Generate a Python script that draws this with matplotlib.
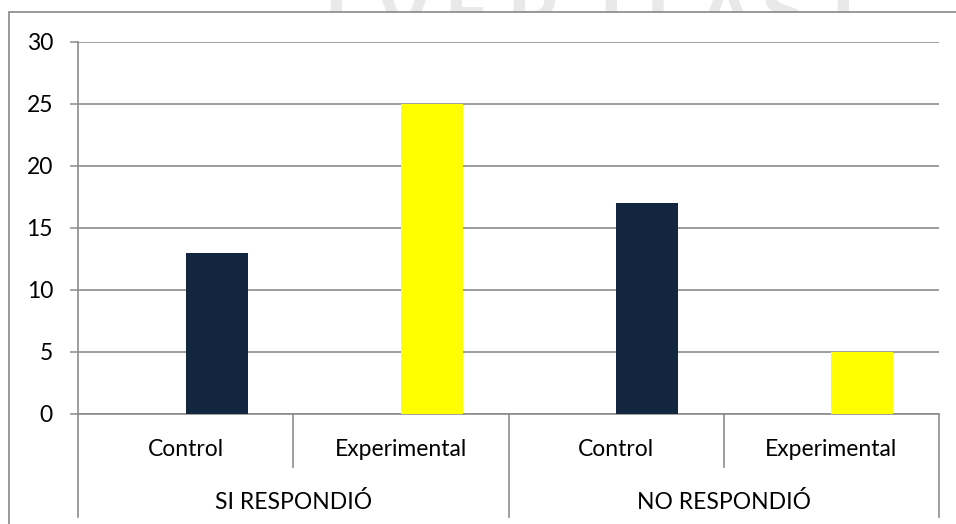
import matplotlib
matplotlib.use("Agg")
import matplotlib.pyplot as plt
from matplotlib.patches import Rectangle
from matplotlib.lines import Line2D

# ---- data ----
groups = ["SI RESPONDIÓ", "NO RESPONDIÓ"]
subcats = ["Control", "Experimental"]
values = [13, 25, 17, 5]            # SI-Control, SI-Exp, NO-Control, NO-Exp
subcat_colors = {"Control": "#13263F", "Experimental": "#FFFF00"}
yticks = [0, 5, 10, 15, 20, 25, 30]
watermark = "VERITAS"

plt.rcParams['font.family'] = ['Lato', 'DejaVu Sans']
W, H = 956, 524
fig = plt.figure(figsize=(W / 100, H / 100), dpi=100)
fig.patch.set_facecolor("white")

def fx(px):
    return px / W

def fy(py):
    return 1 - py / H

# faint watermark behind the chart frame (only its top shows, as in the reference)
wm_letters = ["I"] + list(watermark) + ["I"]
wm_x = [336, 403, 467, 533, 611, 658, 725, 783, 843]
for ch, xx in zip(wm_letters, wm_x):
    fig.text(fx(xx), fy(18), ch, fontsize=60, fontweight="bold", color="#e9e9e9",
             ha="center", va="center", zorder=-3)

# chart frame (white, covers watermark)
frame = Rectangle((fx(9), -0.2), 1.2, fy(12) + 0.2, transform=fig.transFigure,
                  facecolor="white", edgecolor="#878787", linewidth=1.2, zorder=-1)
fig.add_artist(frame)

ax = fig.add_axes([fx(78), fy(414), fx(939) - fx(78), fy(42) - fy(414)])
ax.set_facecolor("none")

n = len(values)
cats = [(g, s) for g in groups for s in subcats]
width = 0.288
xs = [i + width / 2 for i in range(n)]
cols = [subcat_colors[s] for g, s in cats]
ax.bar(xs, values, width=width, color=cols, zorder=3)

FS = 16.5
ax.set_xlim(-0.5, n - 0.5)
ax.set_ylim(0, 30)
ax.set_yticks(yticks)
ax.set_yticklabels([str(v) for v in yticks], fontsize=FS)
ax.yaxis.grid(True, color="#8c8c8c", linewidth=1.2, zorder=0)
ax.set_axisbelow(True)
ax.tick_params(axis="y", length=6, width=1.1, color="#8c8c8c", pad=12)
ax.set_xticks([])
for s in ["top", "right"]:
    ax.spines[s].set_visible(False)
for s in ["left", "bottom"]:
    ax.spines[s].set_color("#8c8c8c")
    ax.spines[s].set_linewidth(1.2)

trans = ax.get_xaxis_transform()
ah = 414 - 42
y_lvl1 = -36 / ah
y_lvl2 = -88 / ah
y_short = -53 / ah
y_long = -103 / ah

for i, (g, s) in enumerate(cats):
    ax.text(i, y_lvl1, s, transform=trans, ha="center", va="center", fontsize=FS)
for gi, g in enumerate(groups):
    ax.text(gi * 2 + 0.5, y_lvl2, g, transform=trans, ha="center", va="center", fontsize=FS)

# separators
for b in range(n + 1):
    xb = b - 0.5
    ybot = y_long if b % 2 == 0 else y_short
    ax.add_line(Line2D([xb, xb], [0, ybot], transform=trans, color="#8c8c8c",
                       linewidth=1.2, clip_on=False))

fig.savefig("out.png", dpi=100, facecolor="white")
